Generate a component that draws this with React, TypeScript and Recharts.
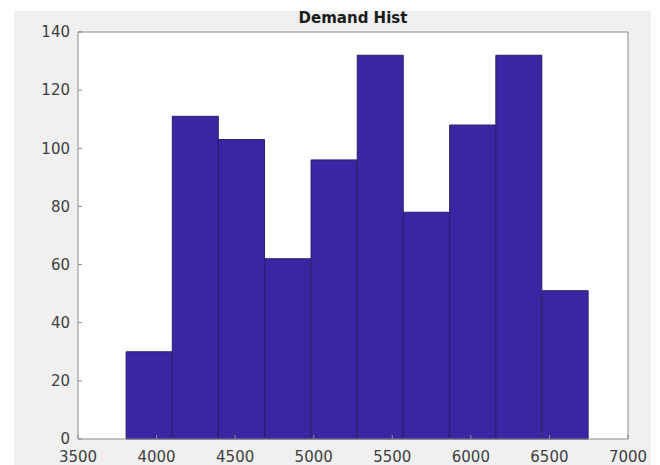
import React from 'react';
import { BarChart, Bar, XAxis, YAxis, CartesianGrid } from 'recharts';

// bin edges and counts
const binEdges = [3806, 4100, 4394, 4688, 4983, 5277, 5571, 5865, 6159, 6453, 6748];
const counts = [30, 111, 103, 62, 96, 132, 78, 108, 132, 51];
const xTicks = [3500, 4000, 4500, 5000, 5500, 6000, 6500, 7000];
const yTicks = [0, 20, 40, 60, 80, 100, 120, 140];

const data = counts.map((c, i) => ({
  center: (binEdges[i] + binEdges[i + 1]) / 2,
  count: c,
}));

const axisColor = '#8a8a8a';
const labelStyle = { fontFamily: 'DejaVu Sans', fontSize: 15, fill: '#404040' };

export default function App() {
  return (
    <div style={{ position: 'absolute', left: 0, top: 0, width: 660, height: 465, background: '#fff', overflow: 'hidden' }}>
      <div style={{ position: 'absolute', left: 14, top: 11, width: 637, height: 454, background: '#f0f0f0' }} />
      <div
        style={{
          position: 'absolute', left: 0, top: 9, width: 706, textAlign: 'center',
          fontFamily: 'DejaVu Sans', fontWeight: 'bold', fontSize: 15, color: '#1a1a1a',
        }}
      >
        Demand Hist
      </div>
      <BarChart
        width={660}
        height={465}
        data={data}
        margin={{ top: 0, right: 0, left: 0, bottom: 0 }}
        barCategoryGap={0}
        barGap={0}
        style={{ position: 'absolute', left: 0, top: 0 }}
      >
        <CartesianGrid horizontal={false} vertical={false} fill="#fff" />
        <XAxis
          xAxisId="bottom"
          dataKey="center"
          type="number"
          domain={[3500, 7000]}
          ticks={xTicks}
          allowDataOverflow
          height={26}
          tickSize={-4}
          tickMargin={16}
          stroke={axisColor}
          tick={labelStyle}
          interval={0}
        />
        <XAxis
          xAxisId="top"
          orientation="top"
          dataKey="center"
          type="number"
          domain={[3500, 7000]}
          ticks={xTicks}
          height={32}
          tickSize={-4}
          tick={false}
          stroke={axisColor}
        />
        <YAxis
          yAxisId="left"
          domain={[0, 140]}
          ticks={yTicks}
          width={78}
          tickSize={-4}
          tickMargin={12}
          stroke={axisColor}
          tick={labelStyle}
          interval={0}
        />
        <YAxis
          yAxisId="right"
          orientation="right"
          domain={[0, 140]}
          ticks={yTicks}
          width={32}
          tickSize={-4}
          tick={false}
          stroke={axisColor}
        />
        <Bar
          dataKey="count"
          xAxisId="bottom"
          yAxisId="left"
          fill="#3a25a2"
          stroke="#2b1f6e"
          strokeWidth={1}
          isAnimationActive={false}
        />
      </BarChart>
    </div>
  );
}
